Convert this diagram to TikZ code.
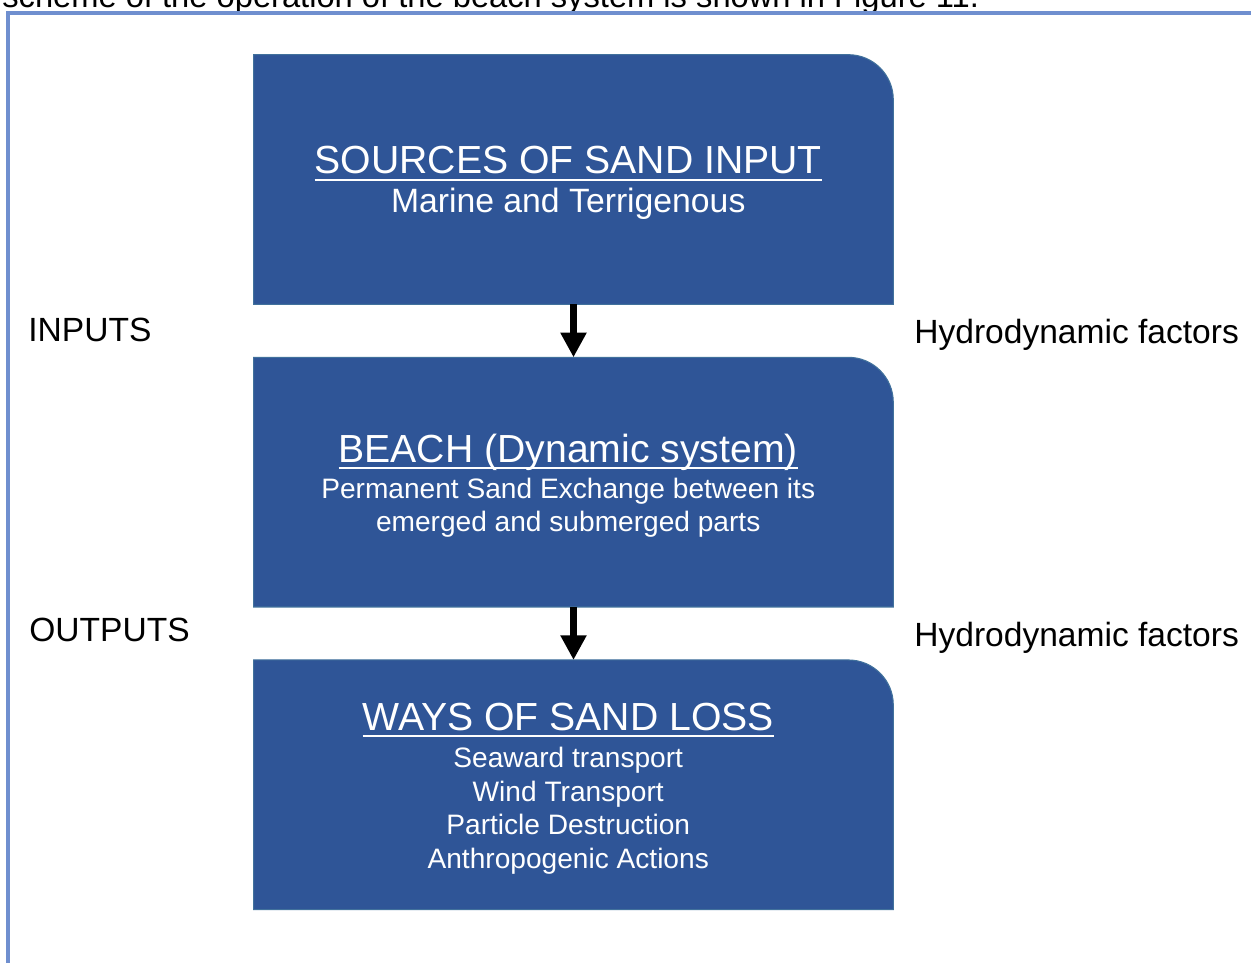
\documentclass[tikz,border=0pt]{standalone}
\usepackage{fontspec}
\setmainfont{Liberation Sans}
\usetikzlibrary{arrows.meta, positioning}

\definecolor{stageblue}{HTML}{2F5597}
\definecolor{stageedge}{HTML}{41719C}
\definecolor{framecol}{HTML}{6F8FCF}

\newcommand\titlesize{\fontsize{22.3}{26}\selectfont}
\newcommand\ultitle[1]{\setbox0\hbox{#1}\rlap{\vrule width\wd0 height -2.9pt depth 4.0pt}\box0}

\begin{document}
\begin{tikzpicture}[x=0.02cm, y=-0.02cm,
    stage/.style={rectangle, inner sep=0pt, minimum width=12.78cm, minimum height=4.98cm},
    stagefill/.style={fill=stageblue, draw=stageedge, line width=0.6pt},
    stagetext/.style={text=white, align=center, inner sep=0pt, font=\fontsize{16}{19}\selectfont},
    side/.style={anchor=base west, inner sep=0pt, font=\fontsize{19.1}{22}\selectfont},
    flow/.style={line width=4pt, -{Triangle[width=14pt, length=14pt]}},
    frame/.style={framecol, line width=2.6pt}]

    \useasboundingbox (0,0) rectangle (1251,963);

    % page context
    \node (caption) [side, font=\fontsize{18.6}{22}\selectfont] at (2,8) {scheme of the operation of the beach system is shown in Figure 11.};
    \draw [frame] (8,963) -- (8,13) -- (1251,13);

    % the three stages
    \node (src) [stage] at (573.5,179.5) {};
    \node (beach) [stage, below=1.06cm of src] {};
    \node (loss) [stage, below=1.06cm of beach] {};
    \foreach \n in {src, beach, loss}
        \filldraw [stagefill] (\n.south west) -- (\n.north west) [rounded corners=0.9cm] -- (\n.north east) [sharp corners] -- (\n.south east) -- cycle;

    \node (srctext) [stagetext] at ([xshift=-3pt, yshift=-2pt]src.center)
        {{\titlesize\ultitle{SOURCES OF SAND INPUT}}\\[3pt]
         {\fontsize{19.2}{22}\selectfont Marine and Terrigenous}};
    \node (beachtext) [stagetext] at ([xshift=-3pt, yshift=-2pt]beach.center)
        {{\titlesize\ultitle{BEACH (Dynamic system)}}\\[1.5pt]
         Permanent Sand Exchange between its\\ emerged and submerged parts};
    \node (losstext) [stagetext] at ([xshift=-3pt, yshift=-2pt]loss.center)
        {{\titlesize\ultitle{WAYS OF SAND LOSS}}\\[2.5pt]
         Seaward transport\\ Wind Transport\\ Particle Destruction\\ Anthropogenic Actions};

    % side labels
    \node (inputs) [side] at (28,341) {INPUTS};
    \node (outputs) [side] at (29,641) {OUTPUTS};
    \node (hydro1) [side] at (914,343) {Hydrodynamic factors};
    \node (hydro2) [side] at (914,646) {Hydrodynamic factors};

    \draw [flow] (src) -- (beach);
    \draw [flow] (beach) -- (loss);

\end{tikzpicture}
\end{document}
